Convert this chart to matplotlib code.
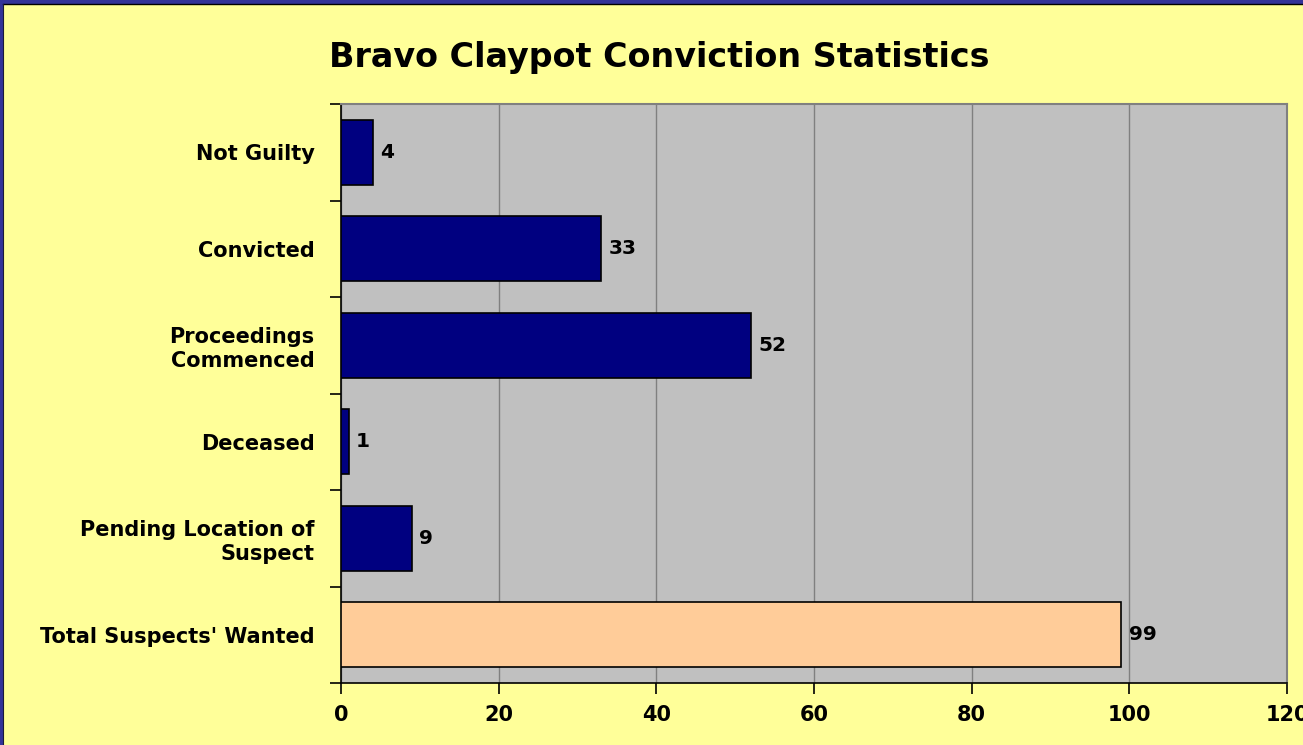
import matplotlib
matplotlib.use("Agg")
import matplotlib.pyplot as plt
from matplotlib.lines import Line2D
from matplotlib.ticker import FixedLocator

# bottom -> top, as drawn
categories = ["Total Suspects' Wanted", "Pending Location of\nSuspect", "Deceased",
              "Proceedings\nCommenced", "Convicted", "Not Guilty"]
values = [99, 9, 1, 52, 33, 4]
bar_colors = ["#FFCC99", "#000080", "#000080", "#000080", "#000080", "#000080"]
x_ticks = [0, 20, 40, 60, 80, 100, 120]

# wide bold face, closest to the stretched Arial of the original
plt.rcParams["font.family"] = ["DejaVu Sans"]
plt.rcParams["font.weight"] = "bold"

fig = plt.figure(figsize=(13.03, 7.45), dpi=100, facecolor="#FFFF99")
# slide frame, only visible on the top and left edges
fig.lines.append(Line2D([0, 1], [1 - 1.5 / 745] * 2, transform=fig.transFigure,
                        color="#333399", linewidth=3.0))
fig.lines.append(Line2D([1 / 1303] * 2, [0, 1], transform=fig.transFigure,
                        color="#333399", linewidth=2.2))
fig.lines.append(Line2D([3 / 1303, 1], [1 - 4 / 745] * 2, transform=fig.transFigure,
                        color="black", linewidth=1.0))
fig.lines.append(Line2D([3 / 1303] * 2, [0, 1 - 4 / 745], transform=fig.transFigure,
                        color="#1a1a3a", linewidth=0.8))

ax = fig.add_axes([341 / 1303, 1 - 683 / 745, (1287 - 341) / 1303, (683 - 104) / 745])
ax.set_facecolor("#C0C0C0")

y = list(range(len(categories)))
ax.barh(y, values, height=0.67, color=bar_colors, edgecolor="black", linewidth=1.2, zorder=3)
for yi, v in zip(y, values):
    ax.text(v + 0.9, yi, str(v), va="center", ha="left", fontsize=14.5,
            fontweight="bold", zorder=4)

ax.set_xlim(0, 120)
ax.set_ylim(-0.5, len(categories) - 0.5)
ax.set_xticks(x_ticks)
ax.set_yticks(y)
ax.set_yticklabels(categories, fontsize=15, fontweight="bold", linespacing=1.25)
ax.yaxis.set_minor_locator(FixedLocator([i - 0.5 for i in range(len(categories) + 1)]))
ax.tick_params(axis="y", which="major", length=0, pad=19)
ax.tick_params(axis="y", which="minor", length=8, width=1.2, direction="out")
ax.tick_params(axis="x", length=8, width=1.2, direction="out", labelsize=15, pad=8)
for lab in ax.get_xticklabels():
    lab.set_fontweight("bold")

ax.grid(axis="x", color="#808080", linewidth=1, zorder=1)
ax.set_axisbelow(True)
for side in ("top", "right"):
    ax.spines[side].set_color("#808080")
    ax.spines[side].set_linewidth(1.5)
for side in ("left", "bottom"):
    ax.spines[side].set_color("black")
    ax.spines[side].set_linewidth(1.2)

fig.text(659 / 1303, 1 - 57 / 745, "Bravo Claypot Conviction Statistics",
         ha="center", va="center", fontsize=24, fontweight="bold")

fig.savefig("out.png", dpi=100, facecolor=fig.get_facecolor())
